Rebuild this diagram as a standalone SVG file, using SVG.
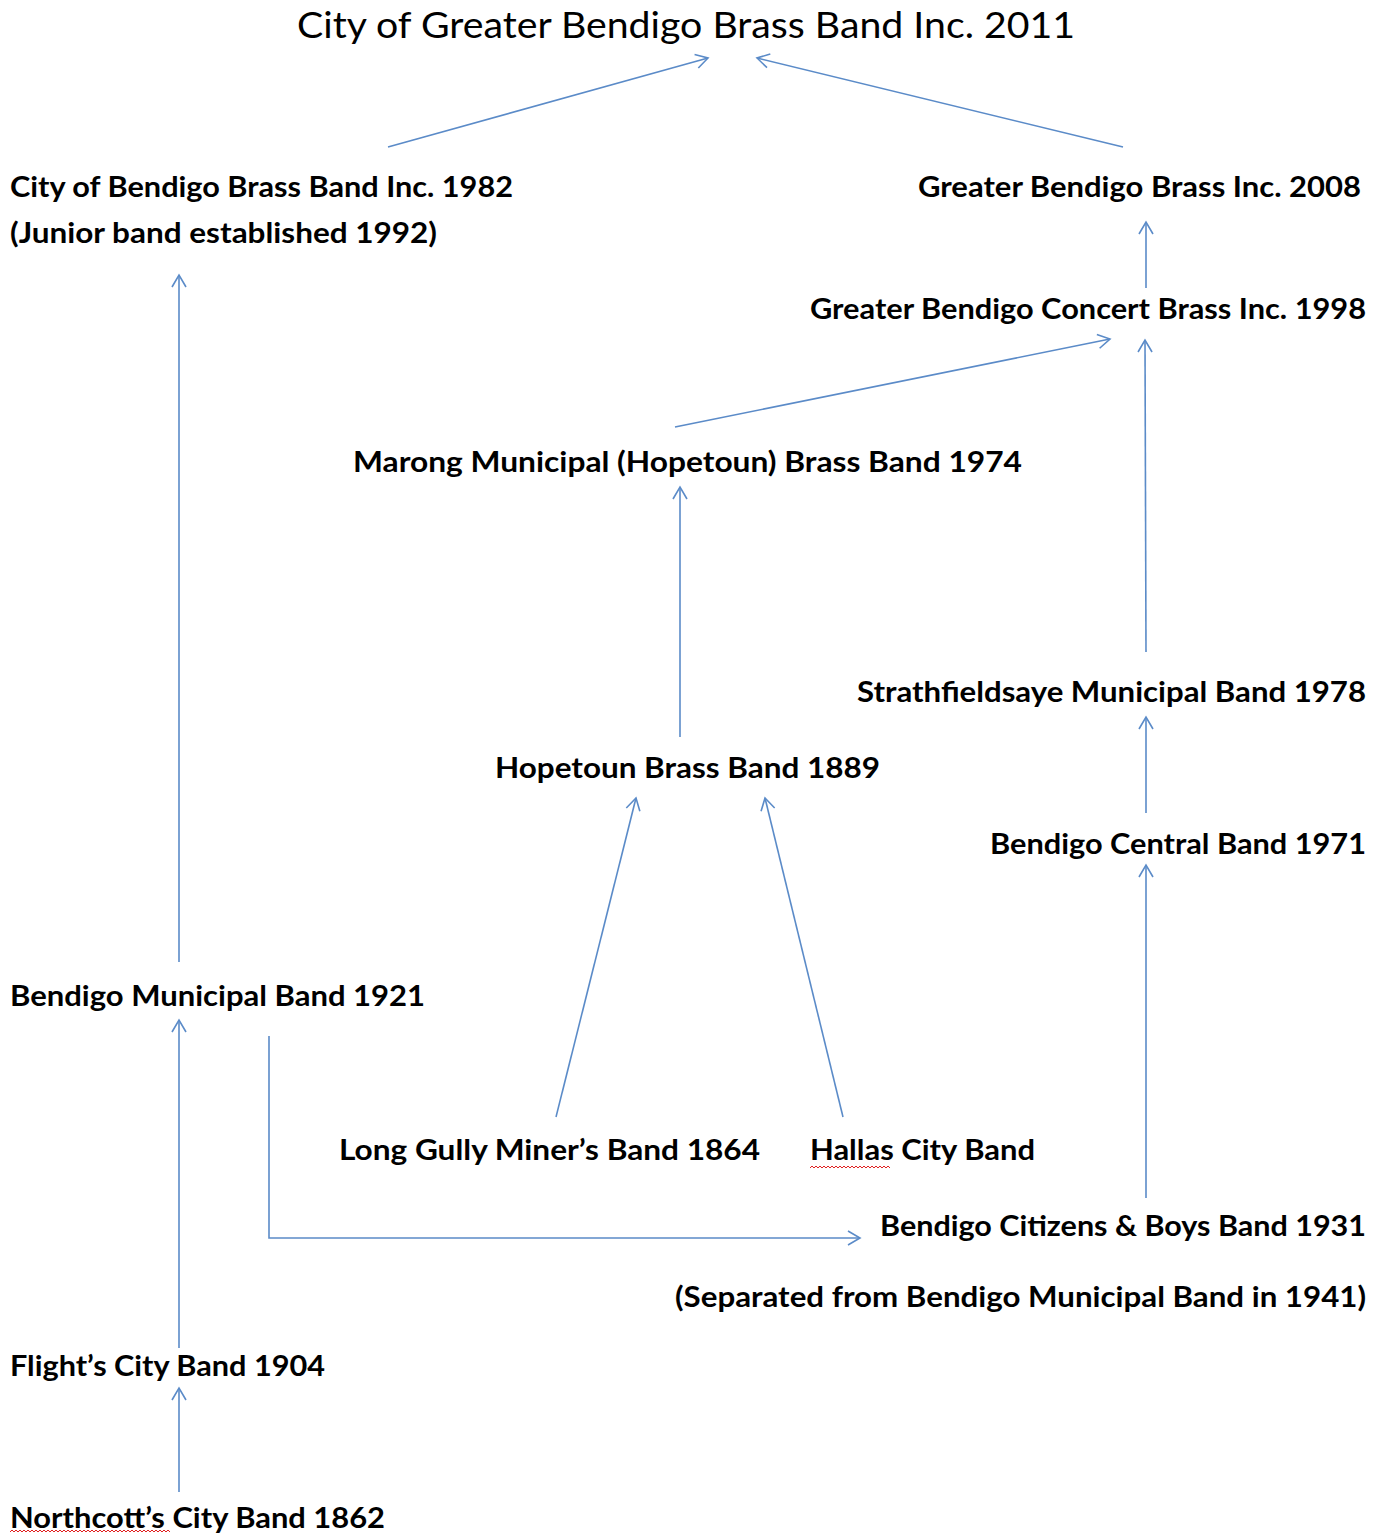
<svg xmlns="http://www.w3.org/2000/svg" width="1383" height="1533" viewBox="0 0 1383 1533">
<style>
text{font-family:Lato,"Open Sans","Liberation Sans",sans-serif;fill:#000}
.n{font-weight:bold;font-size:29px}
.t{font-size:37px}
.c{fill:none;stroke:#5b8bc8;stroke-width:1.6}
.sq{fill:none;stroke:#e02020;stroke-width:1}
</style>
<defs>
<marker id="a" markerUnits="userSpaceOnUse" markerWidth="30" markerHeight="30" refX="15" refY="15" orient="auto" viewBox="0 0 30 30">
<path d="M3,8 L15,15 L3,22" fill="none" stroke="#5b8bc8" stroke-width="1.6"/>
</marker>
</defs>
<rect width="1383" height="1533" fill="#fff"/>
<g id="connectors">
<path class="c" d="M388,147 L708,58" marker-end="url(#a)"/>
<path class="c" d="M1123,147 L757,58" marker-end="url(#a)"/>
<path class="c" d="M179,962 L179,275" marker-end="url(#a)"/>
<path class="c" d="M1146,288 L1146,222" marker-end="url(#a)"/>
<path class="c" d="M675,427 L1110,339" marker-end="url(#a)"/>
<path class="c" d="M1146,652 L1145,340" marker-end="url(#a)"/>
<path class="c" d="M680,737 L680,487" marker-end="url(#a)"/>
<path class="c" d="M1146,813 L1146,717" marker-end="url(#a)"/>
<path class="c" d="M556,1117 L636,798" marker-end="url(#a)"/>
<path class="c" d="M843,1117 L765,798" marker-end="url(#a)"/>
<path class="c" d="M1146,1198 L1146,865" marker-end="url(#a)"/>
<path class="c" d="M179,1348 L179,1020" marker-end="url(#a)"/>
<path class="c" d="M269,1036 L269,1238 L860,1238" marker-end="url(#a)"/>
<path class="c" d="M179,1492 L179,1388" marker-end="url(#a)"/>
</g>
<g id="n-title"><text class="t" x="297" y="38" textLength="778" lengthAdjust="spacingAndGlyphs">City of Greater Bendigo Brass Band Inc. 2011</text></g>
<g id="n-1982">
<text class="n" x="10" y="197" textLength="503" lengthAdjust="spacingAndGlyphs">City of Bendigo Brass Band Inc. 1982</text>
<text class="n" x="10" y="243" textLength="427" lengthAdjust="spacingAndGlyphs">(Junior band established 1992)</text>
</g>
<g id="n-2008"><text class="n" x="918" y="197" textLength="443" lengthAdjust="spacingAndGlyphs">Greater Bendigo Brass Inc. 2008</text></g>
<g id="n-1998"><text class="n" x="810" y="319" textLength="556" lengthAdjust="spacingAndGlyphs">Greater Bendigo Concert Brass Inc. 1998</text></g>
<g id="n-1974"><text class="n" x="353" y="472" textLength="669" lengthAdjust="spacingAndGlyphs">Marong Municipal (Hopetoun) Brass Band 1974</text></g>
<g id="n-1978"><text class="n" x="857" y="702" textLength="509" lengthAdjust="spacingAndGlyphs">Strathfieldsaye Municipal Band 1978</text></g>
<g id="n-1889"><text class="n" x="495" y="778" textLength="385" lengthAdjust="spacingAndGlyphs">Hopetoun Brass Band 1889</text></g>
<g id="n-1971"><text class="n" x="990" y="854" textLength="376" lengthAdjust="spacingAndGlyphs">Bendigo Central Band 1971</text></g>
<g id="n-1921"><text class="n" x="10" y="1006" textLength="415" lengthAdjust="spacingAndGlyphs">Bendigo Municipal Band 1921</text></g>
<g id="n-1864"><text class="n" x="339" y="1160" textLength="421" lengthAdjust="spacingAndGlyphs">Long Gully Miner’s Band 1864</text></g>
<g id="n-hallas">
<text class="n" x="810" y="1160" textLength="225" lengthAdjust="spacingAndGlyphs">Hallas City Band</text>
<path class="sq" d="M810,1168 l2,-2 l2,2 l2,-2 l2,2 l2,-2 l2,2 l2,-2 l2,2 l2,-2 l2,2 l2,-2 l2,2 l2,-2 l2,2 l2,-2 l2,2 l2,-2 l2,2 l2,-2 l2,2 l2,-2 l2,2 l2,-2 l2,2 l2,-2 l2,2 l2,-2 l2,2 l2,-2 l2,2 l2,-2 l2,2 l2,-2 l2,2 l2,-2 l2,2 l2,-2 l2,2 l2,-2 l2,2"/>
</g>
<g id="n-1931">
<text class="n" x="880" y="1236" textLength="486" lengthAdjust="spacingAndGlyphs">Bendigo Citizens &amp; Boys Band 1931</text>
<text class="n" x="675" y="1307" textLength="691" lengthAdjust="spacingAndGlyphs">(Separated from Bendigo Municipal Band in 1941)</text>
</g>
<g id="n-1904"><text class="n" x="10" y="1376" textLength="315" lengthAdjust="spacingAndGlyphs">Flight’s City Band 1904</text></g>
<g id="n-1862">
<text class="n" x="10" y="1528" textLength="375" lengthAdjust="spacingAndGlyphs">Northcott’s City Band 1862</text>
<path class="sq" d="M10,1532 l2,-2 l2,2 l2,-2 l2,2 l2,-2 l2,2 l2,-2 l2,2 l2,-2 l2,2 l2,-2 l2,2 l2,-2 l2,2 l2,-2 l2,2 l2,-2 l2,2 l2,-2 l2,2 l2,-2 l2,2 l2,-2 l2,2 l2,-2 l2,2 l2,-2 l2,2 l2,-2 l2,2 l2,-2 l2,2 l2,-2 l2,2 l2,-2 l2,2 l2,-2 l2,2 l2,-2 l2,2 l2,-2 l2,2 l2,-2 l2,2 l2,-2 l2,2 l2,-2 l2,2 l2,-2 l2,2 l2,-2 l2,2 l2,-2 l2,2 l2,-2 l2,2 l2,-2 l2,2 l2,-2 l2,2 l2,-2 l2,2 l2,-2 l2,2 l2,-2 l2,2 l2,-2 l2,2 l2,-2 l2,2 l2,-2 l2,2 l2,-2 l2,2 l2,-2 l2,2 l2,-2 l2,2 l2,-2 l2,2"/>
</g>
</svg>
